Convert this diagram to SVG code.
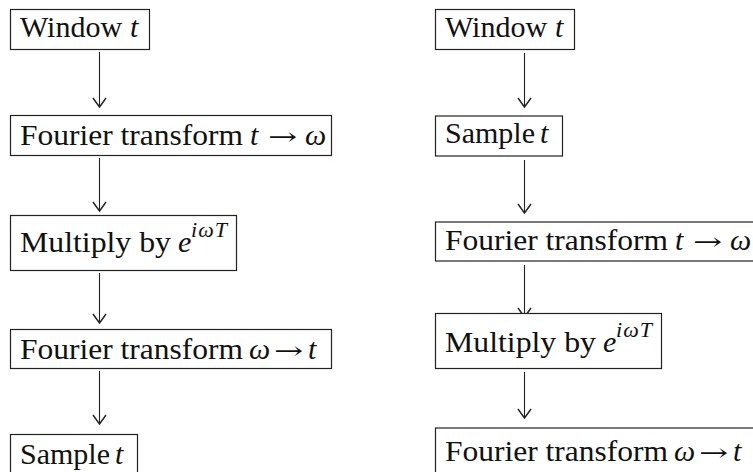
<svg xmlns="http://www.w3.org/2000/svg" width="753" height="472" viewBox="0 0 753 472" font-family="'Liberation Serif', 'Times New Roman', Times, serif">
<defs>
<style>
rect{fill:#fff;stroke:#222;stroke-width:1.2}
text{font-family:'Liberation Serif','Times New Roman',Times,serif;font-size:30px;fill:#111}
.i{font-style:italic}
.s{font-size:22px;font-style:italic}
.a{font-family:'DejaVu Serif','DejaVu Sans',serif;font-size:24px}
.c line{stroke:#222;stroke-width:1.1}
</style>
<marker id="ah" markerUnits="userSpaceOnUse" markerWidth="16" markerHeight="16" refX="0" refY="0" orient="auto" viewBox="-12 -8 14 16" overflow="visible">
<path d="M-9,-6.5 Q-4,-3 0,0 Q-4,3 -9,6.5" fill="none" stroke="#222" stroke-width="1.4"/>
</marker>
</defs>
<g class="c" id="connectors">
<line x1="99.5" y1="52" x2="99.5" y2="107" marker-end="url(#ah)"/>
<line x1="99.5" y1="158" x2="99.5" y2="211" marker-end="url(#ah)"/>
<line x1="99.5" y1="273" x2="99.5" y2="323" marker-end="url(#ah)"/>
<line x1="99.5" y1="371" x2="99.5" y2="424" marker-end="url(#ah)"/>
<line x1="524.5" y1="53" x2="524.5" y2="107" marker-end="url(#ah)"/>
<line x1="524.5" y1="160" x2="524.5" y2="213" marker-end="url(#ah)"/>
<line x1="524.5" y1="265" x2="524.5" y2="317" marker-end="url(#ah)"/>
<line x1="524.5" y1="372" x2="524.5" y2="418" marker-end="url(#ah)"/>
</g>
<g id="L1"><rect x="10.5" y="9.5" width="139" height="40"/><text x="20" y="36.5">Window</text><text class="i" x="130" y="36.5">t</text></g>
<g id="L2"><rect x="10.5" y="115.5" width="321" height="40"/><text x="20" y="145" textLength="223" lengthAdjust="spacingAndGlyphs">Fourier transform</text><text class="i" x="250" y="145">t</text><text class="a" transform="translate(268,145) scale(1.45,1)">→</text><text class="i" x="305" y="145">ω</text></g>
<g id="L3"><rect x="10.5" y="215.5" width="226" height="55"/><text x="20" y="252" textLength="151" lengthAdjust="spacingAndGlyphs">Multiply by</text><text class="i" x="178" y="252">e</text><text class="s" x="191" y="237" textLength="36" lengthAdjust="spacing">iωT</text></g>
<g id="L4"><rect x="10.5" y="329.5" width="321" height="39"/><text x="20" y="359" textLength="223" lengthAdjust="spacingAndGlyphs">Fourier transform</text><text class="i" x="249" y="359">ω</text><text class="a" transform="translate(274,359) scale(1.45,1)">→</text><text class="i" x="308" y="359">t</text></g>
<g id="L5"><rect x="10.5" y="434.5" width="127" height="60"/><text x="20" y="464">Sample</text><text class="i" x="115" y="464">t</text></g>
<g id="R1"><rect x="435.5" y="9.5" width="139" height="40"/><text x="445" y="36.5">Window</text><text class="i" x="555" y="36.5">t</text></g>
<g id="R2"><rect x="435.5" y="116" width="127" height="40"/><text x="445" y="143">Sample</text><text class="i" x="540" y="143">t</text></g>
<g id="R3"><rect x="435.5" y="222" width="340" height="39"/><text x="445" y="250" textLength="223" lengthAdjust="spacingAndGlyphs">Fourier transform</text><text class="i" x="675" y="250">t</text><text class="a" transform="translate(693,250) scale(1.45,1)">→</text><text class="i" x="730" y="250">ω</text></g>
<g id="R4"><rect x="435.5" y="313.5" width="226" height="55"/><text x="445" y="352" textLength="151" lengthAdjust="spacingAndGlyphs">Multiply by</text><text class="i" x="603" y="352">e</text><text class="s" x="616" y="337" textLength="36" lengthAdjust="spacing">iωT</text></g>
<g id="R5"><rect x="435.5" y="428" width="340" height="60"/><text x="445" y="461" textLength="223" lengthAdjust="spacingAndGlyphs">Fourier transform</text><text class="i" x="674" y="461">ω</text><text class="a" transform="translate(699,461) scale(1.45,1)">→</text><text class="i" x="733" y="461">t</text></g>
</svg>
